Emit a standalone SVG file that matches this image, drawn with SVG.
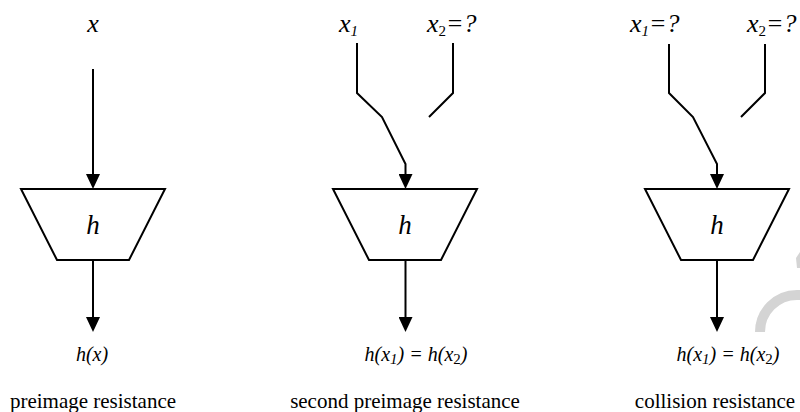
<svg xmlns="http://www.w3.org/2000/svg" width="800" height="412" viewBox="0 0 800 412">
<style>
.ln{fill:none;stroke:#000;stroke-width:2}
.tr{fill:#fff;stroke:#000;stroke-width:2}
.it{font-style:italic}
.top{font-size:26px}
.hh{font-size:27px}
.out{font-size:20px}
.sub{font-size:15px}
.cap{font-size:21px}
</style>
<defs>
<marker id="ah" viewBox="0 0 15 14" refX="6" refY="7" markerWidth="15" markerHeight="14" markerUnits="userSpaceOnUse" orient="auto">
<path d="M0,0 L15,7 L0,14 z" fill="#000"/>
</marker>
</defs>
<g id="watermark">
<path d="M760,332 A37,37 0 0 1 834,332" fill="none" stroke="#d4d4d4" stroke-width="10"/>
<polygon points="796,258 800,252 800,268 797,268" fill="#d4d4d4"/>
</g>
<g id="connectors">
<polyline class="ln" points="93,69 93,180" marker-end="url(#ah)"/>
<polyline class="ln" points="93,260 93,323" marker-end="url(#ah)"/>
<polyline class="ln" points="357,43 357,93 382,117 405.5,164 405.5,180" marker-end="url(#ah)"/>
<polyline class="ln" points="453,43 453,93 429,117"/>
<polyline class="ln" points="405.5,260 405.5,323" marker-end="url(#ah)"/>
<polyline class="ln" points="669,44 669,93 693,117 717,164 717,180" marker-end="url(#ah)"/>
<polyline class="ln" points="765,44 765,93 741,117"/>
<polyline class="ln" points="717,260 717,323" marker-end="url(#ah)"/>
</g>
<g font-family="'Liberation Serif', 'Times New Roman', serif" fill="#000">
<g id="panel1">
<text class="it top" x="93" y="32" text-anchor="middle">x</text>
<g id="h1"><polygon class="tr" points="21,189 165,189 129,260 57,260"/>
<text class="it hh" x="93" y="234" text-anchor="middle">h</text></g>
<text class="it out" x="92" y="361" text-anchor="middle">h(x)</text>
<text class="cap" x="93" y="408" text-anchor="middle">preimage resistance</text>
</g>
<g id="panel2">
<text class="it top" x="339" y="32">x<tspan class="sub" dy="4">1</tspan></text>
<text class="it top" x="427" y="32">x<tspan class="sub" dy="4" font-style="normal">2</tspan><tspan dy="-4">=?</tspan></text>
<g id="h2"><polygon class="tr" points="333,189 477,189 441,260 369,260"/>
<text class="it hh" x="405" y="234" text-anchor="middle">h</text></g>
<text class="it out" x="416" y="361" text-anchor="middle">h(x<tspan class="sub" dy="3">1</tspan><tspan dy="-3">) = h(x</tspan><tspan class="sub" dy="3" font-style="normal">2</tspan><tspan dy="-3">)</tspan></text>
<text class="cap" x="405" y="408" text-anchor="middle">second preimage resistance</text>
</g>
<g id="panel3">
<text class="it top" x="630" y="32">x<tspan class="sub" dy="4">1</tspan><tspan dy="-4">=?</tspan></text>
<text class="it top" x="747" y="32">x<tspan class="sub" dy="4" font-style="normal">2</tspan><tspan dy="-4">=?</tspan></text>
<g id="h3"><polygon class="tr" points="645,189 789,189 753,260 681,260"/>
<text class="it hh" x="717" y="234" text-anchor="middle">h</text></g>
<text class="it out" x="728" y="361" text-anchor="middle">h(x<tspan class="sub" dy="3">1</tspan><tspan dy="-3">) = h(x</tspan><tspan class="sub" dy="3" font-style="normal">2</tspan><tspan dy="-3">)</tspan></text>
<text class="cap" x="715" y="408" text-anchor="middle">collision resistance</text>
</g>
</g>
</svg>
